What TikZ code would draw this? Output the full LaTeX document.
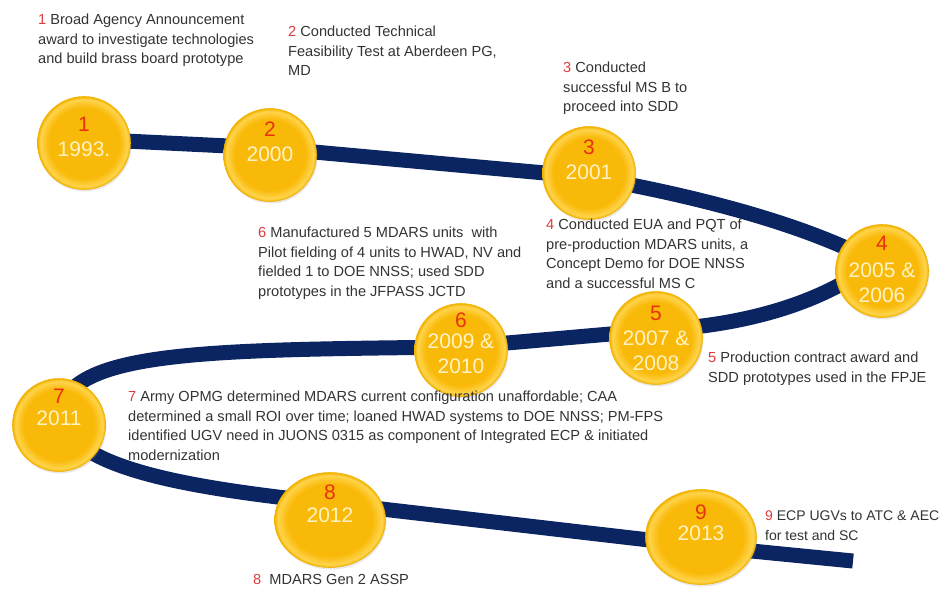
\documentclass[tikz,border=0pt]{standalone}
\usepackage{fontspec}
\setmainfont{Liberation Sans}
\usetikzlibrary{shapes.geometric,shadows}

\definecolor{navy}{HTML}{0B2462}
\definecolor{gold}{HTML}{F9B908}
\definecolor{goldlight}{HTML}{FFD44C}
\definecolor{goldrim}{HTML}{F2B200}
\definecolor{numred}{HTML}{E8320E}
\definecolor{txtred}{HTML}{DE3A3A}
\definecolor{txtgray}{HTML}{333333}
\definecolor{yrcream}{HTML}{FFF3C6}

\pgfdeclareradialshading{discshade}{\pgfpoint{0bp}{0bp}}{%
  color(0bp)=(gold); color(19bp)=(gold); color(23.5bp)=(goldlight);
  color(25bp)=(goldrim); color(50bp)=(goldrim)}

\begin{document}
\begin{tikzpicture}[x=1pt,y=-1pt,
  track/.style={line width=15pt,draw=navy,line join=round},
  disc/.style={circle,minimum size=93pt,inner sep=0pt,draw=goldrim,line width=0.6pt,
    shading=discshade,drop shadow={opacity=0.18,shadow xshift=1pt,shadow yshift=-2pt}},
  bigdisc/.style={disc,ellipse,minimum width=111pt,minimum height=95pt},
  num/.style={text=numred,font=\fontsize{21}{25}\selectfont,inner sep=0pt},
  yr/.style={text=yrcream,font=\fontsize{21}{25}\selectfont,align=center,inner sep=0pt},
  lab/.style={anchor=north west,align=left,inner sep=0pt,text=txtgray,
    font=\fontsize{14.6}{19.5}\selectfont}]
  \useasboundingbox (0,0) rectangle (939,590);
  % track points
  \coordinate (k1) at (84,139);
  \coordinate (k2) at (270,148);
  \coordinate (k3) at (589,177);
  \coordinate (k4) at (875,262);
  \coordinate (k5) at (656,330);
  \coordinate (k6) at (461,347);
  \coordinate (k7) at (59,420);
  \coordinate (k8) at (330,503);
  \coordinate (k9) at (701,546);
  \coordinate (kend) at (853,561);
  \draw[track] (k1) -- (k2) -- (k3) .. controls (690,195) and (800,222) .. (k4)
    .. controls (820,305) and (740,326) .. (k5) -- (k6)
    .. controls (200,350) and (60,350) .. (k7)
    .. controls (80,470) and (190,488) .. (k8) -- (k9) -- (kend);
  % milestones
  \node[disc] (c1) at (84,143) {};
  \node[disc] (c2) at (270,155) {};
  \node[disc] (c3) at (589,173) {};
  \node[disc] (c4) at (882,271) {};
  \node[disc] (c5) at (656,338) {};
  \node[disc] (c6) at (461,350) {};
  \node[disc] (c7) at (59,425) {};
  \node[bigdisc] (c8) at (330,520) {};
  \node[bigdisc] (c9) at (701,537) {};
  \node[num] (n1) at (84,124) {1};   \node[yr] (y1) at (84,149) {1993.};
  \node[num] (n2) at (270,129) {2};  \node[yr] (y2) at (270,154) {2000};
  \node[num] (n3) at (589,147) {3};  \node[yr] (y3) at (589,172) {2001};
  \node[num] (n4) at (882,243) {4};  \node[yr] (y4) at (882,283) {2005 \&\\2006};
  \node[num] (n5) at (656,313) {5};  \node[yr] (y5) at (656,351) {2007 \&\\2008};
  \node[num] (n6) at (461,320) {6};  \node[yr] (y6) at (461,354) {2009 \&\\2010};
  \node[num] (n7) at (59,396) {7};   \node[yr] (y7) at (59,418) {2011};
  \node[num] (n8) at (330,492) {8};  \node[yr] (y8) at (330,515) {2012};
  \node[num] (n9) at (701,512) {9};  \node[yr] (y9) at (701,533) {2013};
  % notes
  \node[lab] (t1) at (38,14) {{\color{txtred}1} Broad Agency Announcement\\award to investigate technologies\\and build brass board prototype};
  \node[lab] (t2) at (288,26) {{\color{txtred}2} Conducted Technical\\Feasibility Test at Aberdeen PG,\\MD};
  \node[lab] (t3) at (563,62) {{\color{txtred}3} Conducted\\successful MS B to\\proceed into SDD};
  \node[lab] (t4) at (546,219) {{\color{txtred}4} Conducted EUA and PQT of\\pre-production MDARS units, a\\Concept Demo for DOE NNSS\\and a successful MS C};
  \node[lab] (t5) at (708,352) {{\color{txtred}5} Production contract award and\\SDD prototypes used in the FPJE};
  \node[lab] (t6) at (258,227) {{\color{txtred}6} Manufactured 5 MDARS units\ \ with\\Pilot fielding of 4 units to HWAD, NV and\\fielded 1 to DOE NNSS; used SDD\\prototypes in the JFPASS JCTD};
  \node[lab] (t7) at (128,391) {{\color{txtred}7} Army OPMG determined MDARS current configuration unaffordable; CAA\\determined a small ROI over time; loaned HWAD systems to DOE NNSS; PM-FPS\\identified UGV need in JUONS 0315 as component of Integrated ECP \& initiated\\modernization};
  \node[lab] (t8) at (253,574) {{\color{txtred}8}\ \ MDARS Gen 2 ASSP};
  \node[lab,font=\fontsize{14}{19.5}\selectfont] (t9) at (765,511) {{\color{txtred}9} ECP UGVs to ATC \& AEC\\for test and SC};
\end{tikzpicture}
\end{document}
